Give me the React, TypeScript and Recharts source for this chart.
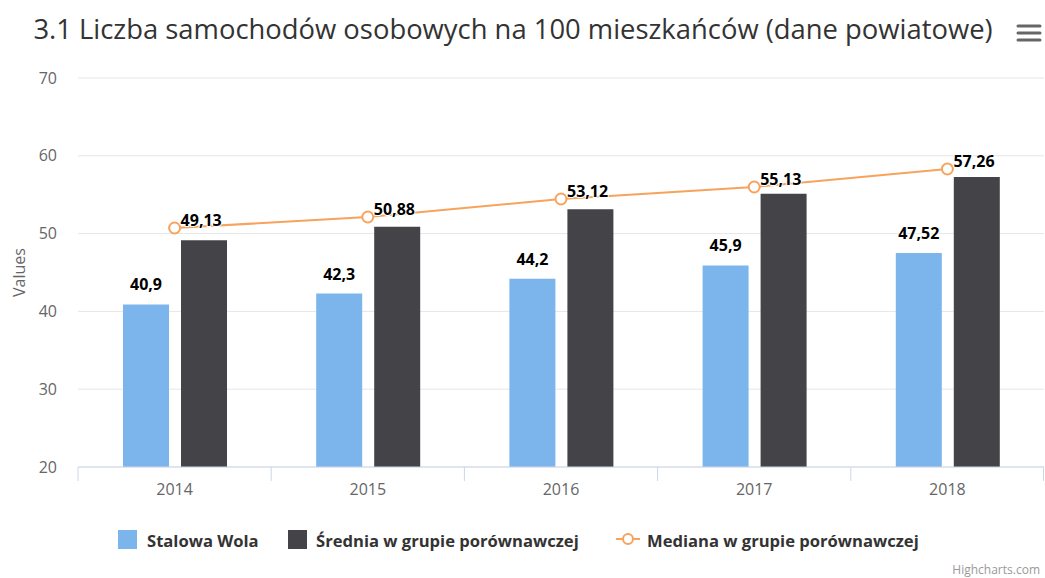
import React from "react"
import { Bar, CartesianGrid, ComposedChart, LabelList, Line, XAxis, YAxis } from "recharts"

const years = ["2014", "2015", "2016", "2017", "2018"]
const stalowaWola = [40.9, 42.3, 44.2, 45.9, 47.52]
const srednia = [49.13, 50.88, 53.12, 55.13, 57.26]
const mediana = [50.72, 52.13, 54.45, 55.99, 58.3]
const yTicks = [20, 30, 40, 50, 60, 70]

const data = years.map((year, i) => ({
    year,
    stalowaWola: stalowaWola[i],
    srednia: srednia[i],
    mediana: mediana[i],
}))

const W = 1045
const H = 578
const MARGIN = { top: 78, right: 1, left: 0, bottom: 81 }
const Y_AXIS_W = 78
const X_AXIS_H = 30
const BAND = (W - MARGIN.left - MARGIN.right - Y_AXIS_W) / years.length
const FONT = "'Open Sans', sans-serif"

const fmt = (v: number) => String(v).replace(".", ",")

const XTick = (props: any) => {
    const { x, y, payload, index } = props
    const last = index === years.length - 1
    return (
        <g>
            <line x1={x - BAND / 2} x2={x - BAND / 2} y1={y} y2={y + 14} stroke="#ccd6eb" />
            {last && <line x1={x + BAND / 2 - 0.5} x2={x + BAND / 2 - 0.5} y1={y} y2={y + 14} stroke="#ccd6eb" />}
            <text x={x} y={y + 28} textAnchor="middle" fill="#666" fontSize={16} fontFamily={FONT}>
                {payload.value}
            </text>
        </g>
    )
}

const BarLabel = (props: any) => {
    const { x, y, width, value } = props
    return (
        <text
            x={x + width / 2}
            y={y - 14}
            textAnchor="middle"
            fontSize={16}
            fontWeight="bold"
            fontFamily={FONT}
            fill="#000"
            stroke="#fff"
            strokeWidth={2}
            paintOrder="stroke"
        >
            {fmt(value)}
        </text>
    )
}

// dark-bar values sit next to the median markers, like in the source chart
const SredniaLabel = (props: any) => {
    const { x, y, index } = props
    return (
        <text
            x={x + 6}
            y={y - 2}
            textAnchor="start"
            fontSize={16}
            fontWeight="bold"
            fontFamily={FONT}
            fill="#000"
            stroke="#fff"
            strokeWidth={2}
            paintOrder="stroke"
        >
            {fmt(srednia[index])}
        </text>
    )
}

const legendText = { fontSize: 16.6, fontWeight: "bold" as const, fill: "#333", fontFamily: FONT }

export default function App() {
    return (
        <div style={{ position: "absolute", left: 0, top: 0, width: W, height: H, background: "#fff" }}>
            <ComposedChart width={W} height={H} data={data} margin={MARGIN} barSize={46} barGap={12}>
                <CartesianGrid vertical={false} stroke="#e6e6e6" />
                <XAxis
                    dataKey="year"
                    height={X_AXIS_H}
                    axisLine={{ stroke: "#ccd6eb" }}
                    tickLine={false}
                    tickSize={0}
                    tickMargin={0}
                    tick={<XTick />}
                    interval={0}
                />
                <YAxis
                    width={Y_AXIS_W}
                    domain={[20, 70]}
                    ticks={yTicks}
                    allowDataOverflow
                    axisLine={false}
                    tickLine={false}
                    tickSize={0}
                    tickMargin={21}
                    tick={{ fill: "#666", fontSize: 16, fontFamily: FONT }}
                    label={{
                        content: (p: any) => {
                            const vb = p.viewBox
                            const cx = vb.x + 19
                            const cy = vb.y + vb.height / 2
                            return (
                                <text
                                    x={cx}
                                    y={cy}
                                    transform={`rotate(-90 ${cx} ${cy})`}
                                    textAnchor="middle"
                                    dominantBaseline="central"
                                    fill="#666"
                                    fontSize={16}
                                    fontFamily={FONT}
                                >
                                    Values
                                </text>
                            )
                        },
                    }}
                />
                <Bar dataKey="stalowaWola" fill="#7cb5ec" isAnimationActive={false}>
                    <LabelList dataKey="stalowaWola" content={<BarLabel />} />
                </Bar>
                <Bar dataKey="srednia" fill="#434348" isAnimationActive={false} />
                <Line
                    dataKey="mediana"
                    type="linear"
                    stroke="#f7a35c"
                    strokeWidth={2}
                    dot={{ r: 5.5, fill: "#fff", stroke: "#f7a35c", strokeWidth: 2 }}
                    isAnimationActive={false}
                >
                    <LabelList dataKey="mediana" content={<SredniaLabel />} />
                </Line>
            </ComposedChart>
            <svg width={W} height={H} style={{ position: "absolute", left: 0, top: 0, pointerEvents: "none" }}>
                <text x={513} y={39} textAnchor="middle" fontSize={27.4} fill="#333" fontFamily={FONT}>
                    3.1 Liczba samochodów osobowych na 100 mieszkańców (dane powiatowe)
                </text>
                <g stroke="#666" strokeWidth={3} strokeLinecap="round">
                    <line x1={1018} x2={1040} y1={26} y2={26} />
                    <line x1={1018} x2={1040} y1={33} y2={33} />
                    <line x1={1018} x2={1040} y1={40} y2={40} />
                </g>
                <rect x={118} y={530} width={19} height={19} fill="#7cb5ec" />
                <text x={147} y={547} {...legendText}>Stalowa Wola</text>
                <rect x={288} y={530} width={19} height={19} fill="#434348" />
                <text x={316} y={547} {...legendText}>Średnia w grupie porównawczej</text>
                <line x1={616} x2={640} y1={539} y2={539} stroke="#f7a35c" strokeWidth={2} />
                <circle cx={628} cy={539} r={5} fill="#fff" stroke="#f7a35c" strokeWidth={2} />
                <text x={647} y={547} {...legendText}>Mediana w grupie porównawczej</text>
                <text x={1040} y={574} textAnchor="end" fontSize={12} fill="#999" fontFamily={FONT}>
                    Highcharts.com
                </text>
            </svg>
        </div>
    )
}
